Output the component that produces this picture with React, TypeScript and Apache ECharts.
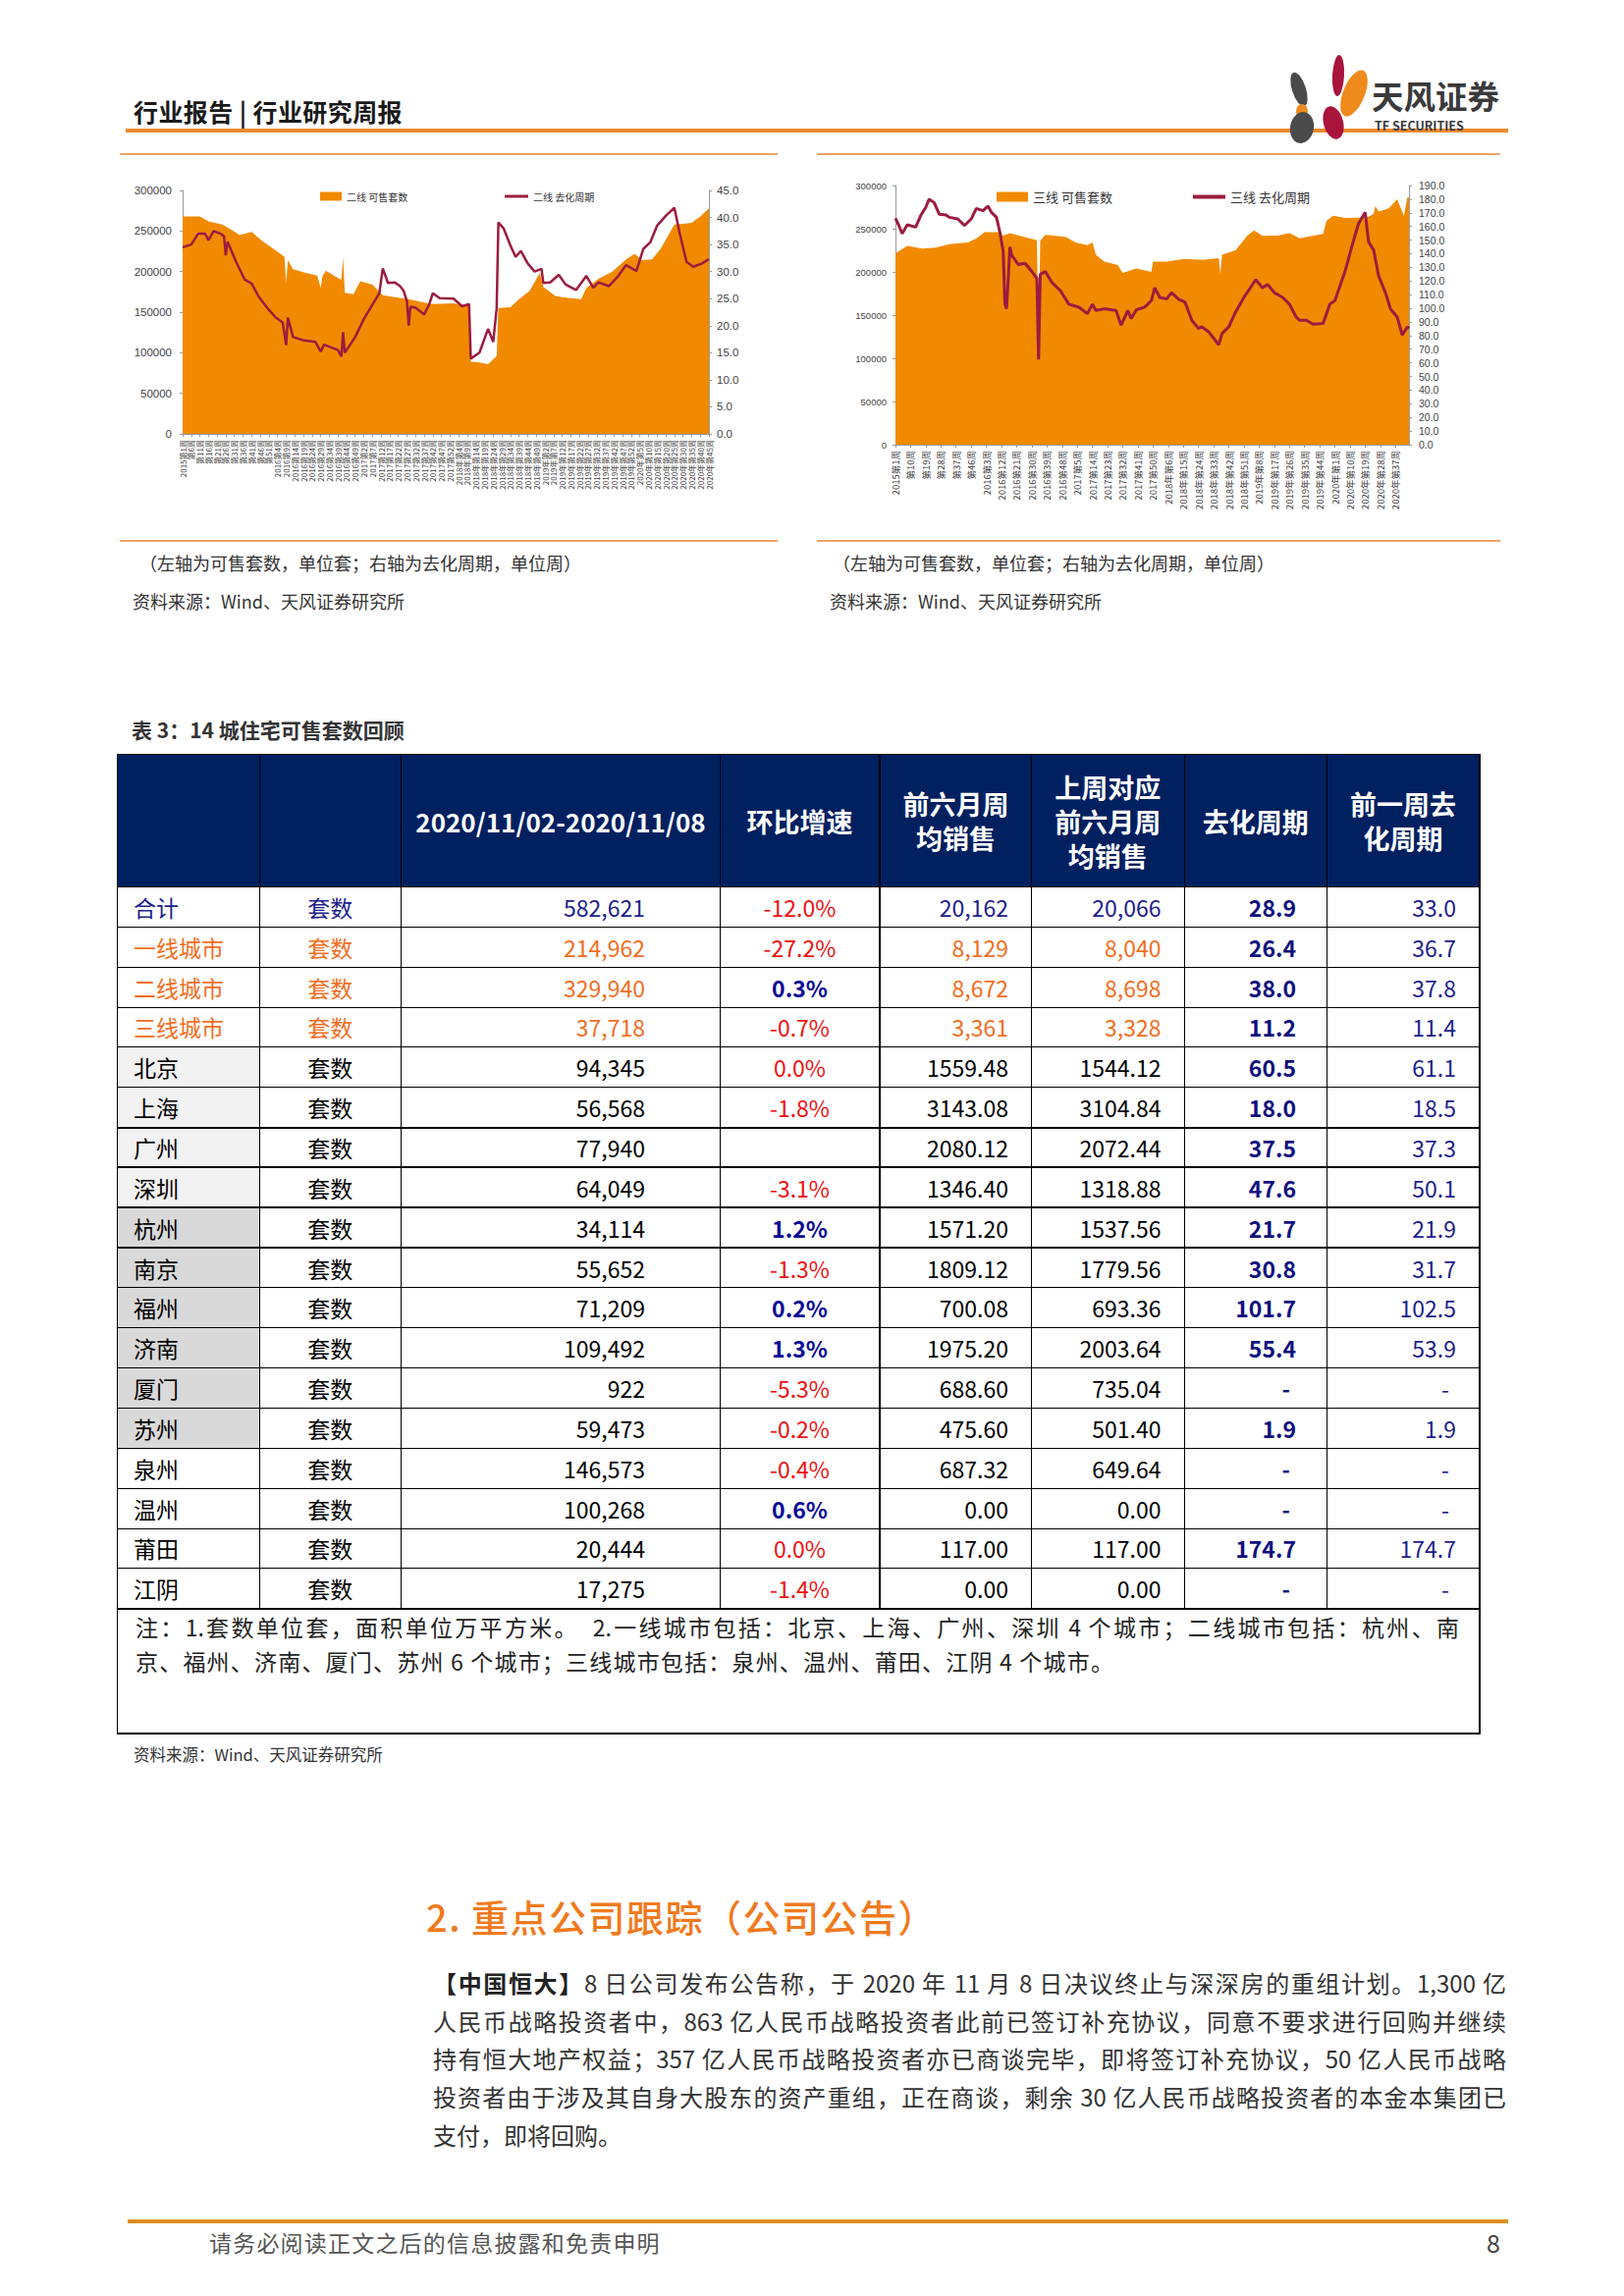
import React, { useEffect, useRef } from "react";
import * as echarts from "echarts";

// ---------- chart data (week index from 2015 week 1) ----------
const YEARS = [2015, 2016, 2017, 2018, 2019, 2020];
const YEAR_WEEKS = [52, 52, 53, 52, 52, 53];

const L2_STOCK_WEEKS = [0, 10, 15, 23, 28, 33, 40, 46, 54, 58, 59, 60, 61, 64, 72, 78, 80, 81, 83, 90, 92, 93, 94, 99, 103, 110, 116, 121, 131, 144, 157, 166, 167, 172, 177, 182, 183, 190, 195, 201, 207, 209, 216, 221, 231, 234, 241, 249, 257, 262, 266, 272, 277, 285, 290, 295, 300, 305];
const L2_STOCK = [268000, 268000, 262000, 258000, 252000, 245000, 249000, 238000, 226000, 220000, 218000, 186000, 214000, 203000, 198000, 195000, 180000, 194000, 201000, 192000, 190000, 217000, 174000, 172000, 188000, 184000, 171000, 169000, 166000, 160000, 161000, 158000, 89000, 88000, 86000, 96000, 155000, 156000, 166000, 176000, 198000, 181000, 170000, 168000, 166000, 180000, 191000, 200000, 215000, 222000, 214000, 215000, 228000, 258000, 259000, 260000, 268000, 278000];

const L2_CYCLE_WEEKS = [0, 5, 9, 13, 15, 18, 22, 24, 25, 26, 27, 31, 36, 40, 44, 49, 54, 58, 60, 61, 64, 70, 77, 80, 82, 90, 92, 93, 94, 95, 100, 105, 110, 114, 116, 119, 123, 126, 128, 130, 131, 132, 135, 140, 143, 145, 149, 157, 162, 166, 167, 172, 177, 180, 182, 183, 186, 190, 193, 196, 200, 204, 208, 209, 213, 218, 222, 228, 234, 238, 241, 247, 252, 257, 263, 267, 271, 275, 280, 285, 288, 292, 296, 301, 305];
const L2_CYCLE = [34.5, 35.0, 37.0, 37.0, 35.8, 37.5, 37.0, 36.5, 33.0, 35.5, 34.8, 31.8, 28.5, 27.8, 25.4, 23.3, 21.5, 20.6, 16.4, 21.5, 17.9, 17.3, 17.0, 15.2, 16.5, 15.5, 14.3, 18.8, 15.0, 15.5, 17.9, 21.2, 23.9, 26.0, 30.6, 27.9, 28.0, 27.3, 26.5, 24.5, 20.0, 23.5, 23.3, 22.1, 24.0, 26.0, 25.1, 25.0, 23.6, 24.0, 13.9, 15.0, 19.4, 17.0, 23.2, 39.1, 38.0, 34.8, 32.7, 33.8, 31.5, 30.0, 30.5, 27.9, 28.0, 29.4, 27.6, 26.6, 29.2, 27.0, 28.0, 27.3, 29.0, 31.2, 30.1, 34.2, 35.4, 38.5, 40.3, 41.8, 37.2, 31.8, 30.9, 31.5, 32.3];

const R3_STOCK_WEEKS = [0, 7, 16, 24, 32, 43, 48, 53, 61, 64, 68, 74, 84, 85, 86, 89, 101, 107, 114, 117, 119, 124, 132, 135, 143, 152, 153, 161, 172, 182, 192, 193, 194, 202, 209, 213, 218, 227, 234, 240, 254, 256, 260, 267, 280, 284, 285, 287, 293, 298, 302, 304, 305];
const R3_STOCK = [221600, 230000, 227000, 228000, 232000, 234000, 238600, 246000, 246000, 242000, 245000, 241700, 236700, 120000, 236000, 243000, 240500, 234000, 231000, 234000, 220000, 212000, 208000, 199000, 204000, 200000, 212000, 212000, 215000, 214000, 216000, 198000, 220000, 225000, 242000, 248000, 241700, 242000, 245000, 239000, 244000, 259000, 265000, 262500, 263000, 267000, 276000, 270000, 273500, 284000, 265000, 286000, 286000];

const R3_CYCLE_WEEKS = [0, 2, 4, 7, 12, 15, 18, 20, 23, 26, 30, 32, 37, 41, 45, 48, 52, 55, 57, 60, 62, 64, 65, 66, 68, 69, 73, 77, 81, 84, 85, 86, 89, 93, 98, 103, 109, 114, 117, 119, 124, 131, 134, 138, 140, 143, 148, 152, 154, 157, 161, 164, 168, 172, 176, 180, 182, 186, 192, 194, 198, 202, 207, 214, 218, 221, 225, 230, 234, 238, 240, 244, 248, 254, 258, 261, 267, 271, 275, 279, 281, 284, 287, 291, 294, 298, 301, 304, 305];
const R3_CYCLE = [166.0, 160.7, 154.7, 161.2, 159.5, 168.0, 174.0, 180.0, 177.5, 169.0, 168.4, 166.7, 165.5, 160.7, 165.5, 173.2, 171.5, 175.0, 170.3, 166.7, 156.0, 141.5, 103.2, 99.6, 145.0, 139.0, 132.0, 133.0, 127.0, 122.0, 62.4, 124.8, 127.0, 118.8, 112.8, 103.0, 100.8, 96.0, 103.0, 98.4, 99.6, 98.4, 87.6, 98.4, 92.4, 98.8, 100.8, 105.6, 115.0, 108.0, 106.8, 111.5, 106.8, 104.4, 91.2, 85.2, 86.4, 82.8, 73.2, 81.6, 86.4, 97.2, 108.0, 121.0, 115.0, 117.5, 111.5, 108.0, 103.0, 93.6, 91.2, 91.2, 88.3, 88.8, 103.0, 105.6, 127.0, 145.0, 162.0, 170.3, 148.7, 142.7, 123.6, 111.5, 99.6, 93.6, 80.4, 86.4, 85.2];

// ---------- table data ----------
const T_NAMES = ["合计", "一线城市", "二线城市", "三线城市", "北京", "上海", "广州", "深圳", "杭州", "南京", "福州", "济南", "厦门", "苏州", "泉州", "温州", "莆田", "江阴"];
const T_STOCK = ["582,621", "214,962", "329,940", "37,718", "94,345", "56,568", "77,940", "64,049", "34,114", "55,652", "71,209", "109,492", "922", "59,473", "146,573", "100,268", "20,444", "17,275"];
const T_PCT = ["-12.0%", "-27.2%", "0.3%", "-0.7%", "0.0%", "-1.8%", "", "-3.1%", "1.2%", "-1.3%", "0.2%", "1.3%", "-5.3%", "-0.2%", "-0.4%", "0.6%", "0.0%", "-1.4%"];
const T_AVG6 = ["20,162", "8,129", "8,672", "3,361", "1559.48", "3143.08", "2080.12", "1346.40", "1571.20", "1809.12", "700.08", "1975.20", "688.60", "475.60", "687.32", "0.00", "117.00", "0.00"];
const T_AVG6_PREV = ["20,066", "8,040", "8,698", "3,328", "1544.12", "3104.84", "2072.44", "1318.88", "1537.56", "1779.56", "693.36", "2003.64", "735.04", "501.40", "649.64", "0.00", "117.00", "0.00"];
const T_CYCLE = ["28.9", "26.4", "38.0", "11.2", "60.5", "18.0", "37.5", "47.6", "21.7", "30.8", "101.7", "55.4", "-", "1.9", "-", "-", "174.7", "-"];
const T_CYCLE_PREV = ["33.0", "36.7", "37.8", "11.4", "61.1", "18.5", "37.3", "50.1", "21.9", "31.7", "102.5", "53.9", "-", "1.9", "-", "-", "174.7", "-"];
const T_HEADERS = ["", "", "2020/11/02-2020/11/08", "环比增速", "前六月周\n均销售", "上周对应\n前六月周\n均销售", "去化周期", "前一周去\n化周期"];
const T_COL_W = [144.5, 144.5, 325, 162.5, 154.5, 155.5, 145.5, 155.5];

const AREA_COLOR = "#F18A00";
const LINE_COLOR = "#9C1C3F";
const FONT = '"Noto Sans CJK SC", "Noto Sans", sans-serif';
const CHART_FONT = '"Liberation Sans", "Noto Sans CJK SC", sans-serif';

function weekLabel(v: number) {
  let idx = Math.round(v);
  let y = 0;
  while (y < YEARS.length - 1 && idx >= YEAR_WEEKS[y]) {
    idx -= YEAR_WEEKS[y];
    y++;
  }
  const year = YEARS[y];
  const w = idx + 1;
  if (year === 2015) return w === 1 ? "2015第1周" : `第${w}周`;
  if (year < 2018) return `${year}第${w}周`;
  return `${year}年第${w}周`;
}

function pairs(xs: number[], ys: number[]) {
  return xs.map((x, i) => [x, ys[i]]);
}

function buildOption(c: any) {
  const axisLine = { show: true, lineStyle: { color: "#9a9a9a", width: 1 } };
  return {
    animation: false,
    textStyle: { fontFamily: CHART_FONT },
    grid: c.grid,
    legend: [
      {
        data: [{ name: c.stockName, icon: "rect" }],
        left: c.legendLeft1, top: c.legendTop,
        itemWidth: c.swatchW, itemHeight: c.swatchH, itemGap: 4,
        textStyle: { fontSize: c.legendFont, color: "#333", fontFamily: FONT },
      },
      {
        data: [{ name: c.cycleName, icon: "rect" }],
        left: c.legendLeft2, top: c.legendTop,
        itemWidth: c.lineIconW, itemHeight: c.lineIconH, itemGap: 4,
        textStyle: { fontSize: c.legendFont, color: "#333", fontFamily: FONT },
      },
    ],
    xAxis: {
      type: "value", min: 0, max: 305, interval: c.xInterval,
      axisLine, splitLine: { show: false },
      axisTick: { show: true, length: 3, lineStyle: { color: "#9a9a9a" } },
      axisLabel: {
        rotate: 90, fontSize: c.xLabelSize, color: "#444", margin: 6,
        formatter: (v: number) => weekLabel(v), showMaxLabel: c.showMaxX, showMinLabel: true,
        fontFamily: FONT,
      },
    },
    yAxis: [
      {
        type: "value", min: 0, max: 300000, interval: 50000,
        axisLine, splitLine: { show: false },
        axisTick: { show: true, length: 3, lineStyle: { color: "#9a9a9a" } },
        axisLabel: { fontSize: c.yLeftFont, color: "#444", margin: c.leftMargin, formatter: (v: number) => String(v) },
      },
      {
        type: "value", min: 0, max: c.yRightMax, interval: c.yRightInterval, position: "right",
        axisLine, splitLine: { show: false },
        axisTick: { show: true, length: 3, lineStyle: { color: "#9a9a9a" } },
        axisLabel: { fontSize: c.yRightFont, color: "#444", margin: c.rightMargin, formatter: (v: number) => v.toFixed(1) },
      },
    ],
    series: [
      {
        name: c.stockName, type: "line", data: pairs(c.stockWeeks, c.stock),
        symbol: "none", lineStyle: { width: 0, color: AREA_COLOR },
        itemStyle: { color: AREA_COLOR }, areaStyle: { color: AREA_COLOR, opacity: 1 },
        z: 1,
      },
      {
        name: c.cycleName, type: "line", yAxisIndex: 1, data: pairs(c.cycleWeeks, c.cycle),
        symbol: "none", lineStyle: { width: c.lineWidth, color: LINE_COLOR },
        itemStyle: { color: LINE_COLOR }, z: 3,
      },
    ],
  };
}

function Chart({ option, style }: any) {
  const ref = useRef<HTMLDivElement>(null);
  useEffect(() => {
    const chart = echarts.init(ref.current as HTMLDivElement, null, { renderer: "svg" });
    chart.setOption(option);
    return () => chart.dispose();
  }, []);
  return <div ref={ref} style={style} />;
}

const leftOption = buildOption({
  stockName: "二线 可售套数", cycleName: "二线 去化周期",
  stockWeeks: L2_STOCK_WEEKS, stock: L2_STOCK, cycleWeeks: L2_CYCLE_WEEKS, cycle: L2_CYCLE,
  grid: { left: 58, right: 68, top: 29, bottom: 103 },
  legendLeft1: 193, legendLeft2: 381, legendTop: 25, legendFont: 10,
  swatchW: 22, swatchH: 9, lineIconW: 24, lineIconH: 3,
  xInterval: 5, xLabelSize: 8, showMaxX: true,
  yLeftFont: 11.5, yRightMax: 45, yRightInterval: 5, yRightFont: 11.5,
  lineWidth: 2.5, leftMargin: 11, rightMargin: 8,
});

const rightOption = buildOption({
  stockName: "三线 可售套数", cycleName: "三线 去化周期",
  stockWeeks: R3_STOCK_WEEKS, stock: R3_STOCK, cycleWeeks: R3_CYCLE_WEEKS, cycle: R3_CYCLE,
  grid: { left: 80, right: 92, top: 24, bottom: 92 },
  legendLeft1: 178, legendLeft2: 378, legendTop: 24, legendFont: 13,
  swatchW: 32, swatchH: 10, lineIconW: 33, lineIconH: 4,
  xInterval: 9, xLabelSize: 9.5, showMaxX: false,
  yLeftFont: 9.5, yRightMax: 190, yRightInterval: 10, yRightFont: 10.5,
  lineWidth: 3, leftMargin: 9, rightMargin: 10,
});

function Txt({ x, y, size, lh, children, style }: any) {
  const h = lh || Math.round(size * 1.5);
  return (
    <div style={{ position: "absolute", left: x, top: y - h / 2, height: h, lineHeight: h + "px", fontSize: size, whiteSpace: "nowrap", ...style }}>
      {children}
    </div>
  );
}

function HLine({ x, y, w, h, color }: any) {
  return <div style={{ position: "absolute", left: x, top: y, width: w, height: h, background: color }} />;
}

function pctColor(p: string) {
  if (p.startsWith("-") || p === "0.0%") return { color: "#F01010", fontWeight: "normal" as const };
  return { color: "#0A0A96", fontWeight: "bold" as const };
}

function rowColor(i: number) {
  if (i === 0) return "#1E1E8C";
  if (i <= 3) return "#F26E1E";
  return "#000";
}

function firstBg(i: number) {
  if (i >= 4 && i <= 7) return "#F2F2F2";
  if (i >= 8 && i <= 13) return "#D9D9D9";
  return "#fff";
}

function DataTable() {
  const thin = "1px solid #000";
  const thick = "2px solid #000";
  const tableW = T_COL_W.reduce((a, b) => a + b, 0);
  const base: any = { border: thin, padding: 0, fontSize: 23, lineHeight: "38px", whiteSpace: "nowrap", overflow: "hidden" };
  return (
    <table style={{ position: "absolute", left: 119, top: 768, width: tableW, borderCollapse: "collapse", tableLayout: "fixed", fontFamily: FONT }}>
      <colgroup>
        {T_COL_W.map((w, i) => <col key={i} style={{ width: w }} />)}
      </colgroup>
      <tbody>
        <tr style={{ height: 135 }}>
          {T_HEADERS.map((h, i) => (
            <th key={i} style={{ background: "#002060", color: "#fff", fontSize: i === 2 ? 26 : 27, fontWeight: "bold", lineHeight: "35px", textAlign: "center", border: thin, borderRight: i === 3 || i === 7 ? thick : thin, padding: 0, whiteSpace: "pre" }}>
              {h}
            </th>
          ))}
        </tr>
        {T_NAMES.map((name, i) => {
          const bottom = i === 5 || i === 6 || i === 7 || i === 8 || i === 17 ? thick : thin;
          const rc = rowColor(i);
          const pc = pctColor(T_PCT[i]);
          return (
            <tr key={name} style={{ height: 40.85 }}>
              <td style={{ ...base, borderBottom: bottom, background: firstBg(i), color: rc, textAlign: "left", paddingLeft: 16 }}>{name}</td>
              <td style={{ ...base, borderBottom: bottom, color: rc, textAlign: "center" }}>套数</td>
              <td style={{ ...base, borderBottom: bottom, color: rc, textAlign: "right", paddingRight: 76 }}>{T_STOCK[i]}</td>
              <td style={{ ...base, borderBottom: bottom, borderRight: thick, ...pc, textAlign: "center" }}>{T_PCT[i]}</td>
              <td style={{ ...base, borderBottom: bottom, color: rc, textAlign: "right", paddingRight: 23 }}>{T_AVG6[i]}</td>
              <td style={{ ...base, borderBottom: bottom, color: rc, textAlign: "right", paddingRight: 23 }}>{T_AVG6_PREV[i]}</td>
              <td style={{ ...base, borderBottom: bottom, color: "#10107E", fontWeight: "bold", textAlign: "right", paddingRight: T_CYCLE[i] === "-" ? 37 : 31 }}>{T_CYCLE[i]}</td>
              <td style={{ ...base, borderBottom: bottom, borderRight: thick, color: "#1E1E8C", textAlign: "right", paddingRight: T_CYCLE_PREV[i] === "-" ? 30 : 23 }}>{T_CYCLE_PREV[i]}</td>
            </tr>
          );
        })}
        <tr style={{ height: 127 }}>
          <td colSpan={8} style={{ border: thin, borderRight: thick, borderBottom: "2.5px solid #000", verticalAlign: "top", padding: "0 20px 0 18px", fontSize: 23, lineHeight: "35px", color: "#222" }}>
            <div style={{ textAlign: "justify", textAlignLast: "justify", whiteSpace: "nowrap" }}>注：1.套数单位套，面积单位万平方米。　2.一线城市包括：北京、上海、广州、深圳 4 个城市；二线城市包括：杭州、南</div>
            <div style={{ whiteSpace: "nowrap", letterSpacing: 1.2 }}>京、福州、济南、厦门、苏州 6 个城市；三线城市包括：泉州、温州、莆田、江阴 4 个城市。</div>
          </td>
        </tr>
      </tbody>
    </table>
  );
}

function Logo() {
  return (
    <svg style={{ position: "absolute", left: 1296, top: 50, overflow: "visible" }} width={250} height={100}>
      <ellipse cx={67} cy={27} rx={6} ry={21} fill="#A8143C" transform="rotate(3 67 27)" />
      <ellipse cx={27} cy={41} rx={7} ry={18} fill="#4A4A4A" transform="rotate(-18 27 41)" />
      <ellipse cx={83} cy={45} rx={11} ry={25} fill="#EE8B1C" transform="rotate(22 83 45)" />
      <ellipse cx={30} cy={64} rx={6} ry={8} fill="#EE8B1C" />
      <ellipse cx={30} cy={80} rx={12} ry={16} fill="#4A4A4A" transform="rotate(10 30 80)" />
      <ellipse cx={62} cy={75} rx={10} ry={17} fill="#A8143C" transform="rotate(-15 62 75)" />
      <text x={101} y={61} fontSize={32.5} fontWeight="bold" fill="#3A3A3A" fontFamily={FONT}>天风证券</text>
      <text x={104} y={83} fontSize={12.5} fontWeight="bold" fill="#3A3A3A" fontFamily={FONT}>TF SECURITIES</text>
    </svg>
  );
}

export default function App() {
  const capStyle = { color: "#333", fontFamily: FONT };
  return (
    <div style={{ position: "absolute", left: 0, top: 0, width: 1654, height: 2339, background: "#fff", fontFamily: FONT, overflow: "hidden" }}>
      {/* header */}
      <Txt x={136} y={113} size={25} style={{ fontWeight: "bold", color: "#1a1a1a", letterSpacing: 0.4 }}>行业报告 | 行业研究周报</Txt>
      <HLine x={128} y={131} w={1408} h={4} color="#EC8A2D" />
      <Logo />

      {/* chart frames */}
      <HLine x={122} y={156} w={670} h={2} color="#EDA466" />
      <HLine x={832} y={156} w={696} h={2} color="#EDA466" />
      <Chart option={leftOption} style={{ position: "absolute", left: 128, top: 165, width: 662, height: 380 }} />
      <Chart option={rightOption} style={{ position: "absolute", left: 832, top: 165, width: 695, height: 380 }} />
      <HLine x={122} y={550} w={670} h={1.5} color="#EDA466" />
      <HLine x={832} y={550} w={696} h={1.5} color="#EDA466" />

      <Txt x={142} y={573} size={18} style={capStyle}>（左轴为可售套数，单位套；右轴为去化周期，单位周）</Txt>
      <Txt x={135} y={612} size={18} style={capStyle}>资料来源：Wind、天风证券研究所</Txt>
      <Txt x={848} y={573} size={18} style={capStyle}>（左轴为可售套数，单位套；右轴为去化周期，单位周）</Txt>
      <Txt x={845} y={612} size={18} style={capStyle}>资料来源：Wind、天风证券研究所</Txt>

      {/* table */}
      <Txt x={134} y={743} size={21} style={{ fontWeight: "bold", color: "#333" }}>表 3：14 城住宅可售套数回顾</Txt>
      <DataTable />
      <Txt x={136} y={1787} size={16.5} style={{ color: "#333" }}>资料来源：Wind、天风证券研究所</Txt>

      {/* section */}
      <Txt x={434} y={1952} size={38} lh={50} style={{ color: "#F07A1E", fontWeight: 500, letterSpacing: 1.5 }}>2. 重点公司跟踪（公司公告）</Txt>
      <div style={{ position: "absolute", left: 441, top: 2001, width: 1093, fontSize: 24, lineHeight: "38.7px", color: "#333" }}>
        <div style={{ textAlign: "justify", textAlignLast: "justify", whiteSpace: "nowrap" }}><b style={{ color: "#222" }}>【中国恒大】</b>8 日公司发布公告称，于 2020 年 11 月 8 日决议终止与深深房的重组计划。1,300 亿</div>
        <div style={{ textAlign: "justify", textAlignLast: "justify", whiteSpace: "nowrap" }}>人民币战略投资者中，863 亿人民币战略投资者此前已签订补充协议，同意不要求进行回购并继续</div>
        <div style={{ textAlign: "justify", textAlignLast: "justify", whiteSpace: "nowrap" }}>持有恒大地产权益；357 亿人民币战略投资者亦已商谈完毕，即将签订补充协议，50 亿人民币战略</div>
        <div style={{ textAlign: "justify", textAlignLast: "justify", whiteSpace: "nowrap" }}>投资者由于涉及其自身大股东的资产重组，正在商谈，剩余 30 亿人民币战略投资者的本金本集团已</div>
        <div style={{ whiteSpace: "nowrap" }}>支付，即将回购。</div>
      </div>

      {/* footer */}
      <HLine x={130} y={2261} w={1406} h={4} color="#DC9020" />
      <Txt x={213} y={2284} size={23} style={{ color: "#555", letterSpacing: 1.2 }}>请务必阅读正文之后的信息披露和免责申明</Txt>
      <Txt x={1514} y={2284} size={25} style={{ color: "#444" }}>8</Txt>
    </div>
  );
}
